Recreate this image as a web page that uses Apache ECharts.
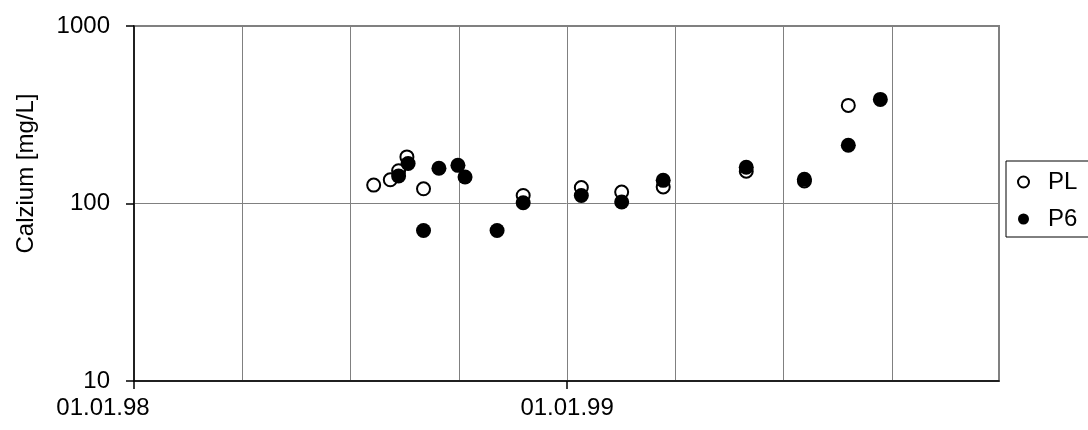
<!DOCTYPE html>
<html>
<head>
<meta charset="utf-8">
<script src="https://cdn.jsdelivr.net/npm/echarts@6/dist/echarts.min.js"></script>
<style>
html,body{margin:0;padding:0;background:#fff;}
#chart{width:1088px;height:430px;}
</style>
</head>
<body>
<div id="chart"></div>
<script>
// Data (dates dd.mm.yy, values in mg/L)
const seriesNames = ['PL', 'P6'];
const plDates = ['1998-07-22','1998-08-05','1998-08-12','1998-08-19','1998-09-02','1998-11-25','1999-01-13','1999-02-16','1999-03-23','1999-06-01','1999-07-20','1999-08-26'];
const plValues = [127, 136, 153, 183, 121, 111, 123, 116, 124, 152, 134, 357];
const p6Dates = ['1998-08-12','1998-08-20','1998-09-02','1998-09-15','1998-10-01','1998-10-07','1998-11-03','1998-11-25','1999-01-13','1999-02-16','1999-03-23','1999-06-01','1999-07-20','1999-08-26','1999-09-22'];
const p6Values = [143, 168, 70.5, 158, 164, 141, 70.5, 101, 111, 102, 135, 160, 137, 213, 386];
const xTickDates = ['1998-01-01', '1999-01-01'];
const xTickLabels = ['01.01.98', '01.01.99'];
const xStartDate = '1998-01-01';
const xEndDate = '1999-12-31';

const DAY = 86400000;
const t0 = Date.UTC(1998, 0, 1);
function toDay(s) {
  const p = s.split('-').map(Number);
  return (Date.UTC(p[0], p[1] - 1, p[2]) - t0) / DAY;
}
const xMin = toDay(xStartDate);
const xMax = toDay(xEndDate);
const tickDays = xTickDates.map(toDay);

const chart = echarts.init(document.getElementById('chart'), null, {renderer: 'canvas'});
const font = 'Liberation Sans, Arial, sans-serif';
const FS = 24;
chart.setOption({
  animation: false,
  backgroundColor: '#fff',
  grid: {
    left: 134, top: 26, width: 865, height: 355,
    show: true, borderColor: '#808080', borderWidth: 2, backgroundColor: 'transparent'
  },
  xAxis: [
    {
      type: 'value',
      min: xMin,
      max: xMax,
      interval: 365,
      axisLine: {show: true, onZero: false, lineStyle: {color: '#000', width: 1.5}},
      axisTick: {show: true, length: 8, inside: false, customValues: tickDays, lineStyle: {color: '#000', width: 1.5}},
      axisLabel: {
        show: true, customValues: tickDays, margin: 15,
        color: '#000', fontFamily: font, fontSize: FS,
        formatter: function (v) {
          const i = tickDays.indexOf(v);
          if (i < 0) return '';
          return i === 0 ? '{f|' + xTickLabels[i] + '}' : xTickLabels[i];
        },
        rich: {f: {color: '#000', fontFamily: font, fontSize: FS, padding: [0, 62, 0, 0]}}
      },
      splitLine: {show: false},
      z: 5
    },
    {
      type: 'value',
      min: xMin,
      max: xMax,
      interval: 91.25,
      axisLine: {show: false},
      axisTick: {show: false},
      axisLabel: {show: false},
      splitLine: {show: true, lineStyle: {color: '#808080', width: 1}}
    }
  ],
  yAxis: {
    type: 'log',
    logBase: 10,
    min: 10,
    max: 1000,
    name: 'Calzium [mg/L]',
    nameLocation: 'middle',
    nameGap: 96,
    nameTextStyle: {color: '#000', fontFamily: font, fontSize: FS, padding: [0, 0, 0, 60]},
    axisLine: {show: true, lineStyle: {color: '#000', width: 1.5}},
    axisTick: {show: true, length: 8, lineStyle: {color: '#000', width: 1.5}},
    axisLabel: {color: '#000', fontFamily: font, fontSize: FS, margin: 24, formatter: function (v) { return String(Math.round(v)); }},
    splitLine: {show: true, lineStyle: {color: '#808080', width: 1}}
  },
  legend: {
    orient: 'vertical',
    left: 1006, top: 161,
    backgroundColor: '#fff',
    borderColor: '#000', borderWidth: 1,
    padding: [9, 60, 6, 11],
    itemGap: 13,
    itemWidth: 11, itemHeight: 11,
    textStyle: {color: '#000', fontFamily: font, fontSize: FS, padding: [0, 0, 0, 14]},
    data: [
      {name: seriesNames[0], icon: 'circle', itemStyle: {color: '#fff', borderColor: '#000', borderWidth: 2}},
      {name: seriesNames[1], icon: 'circle', itemStyle: {color: '#000'}}
    ]
  },
  series: [
    {
      name: seriesNames[0], type: 'scatter', symbol: 'circle', symbolSize: 13,
      xAxisIndex: 0,
      itemStyle: {color: '#fff', borderColor: '#000', borderWidth: 2, opacity: 1},
      data: plDates.map((d, i) => [toDay(d), plValues[i]]),
      z: 2
    },
    {
      name: seriesNames[1], type: 'scatter', symbol: 'circle', symbolSize: 15,
      xAxisIndex: 0,
      itemStyle: {color: '#000', opacity: 1},
      data: p6Dates.map((d, i) => [toDay(d), p6Values[i]]),
      z: 3
    }
  ]
});
</script>
</body>
</html>
